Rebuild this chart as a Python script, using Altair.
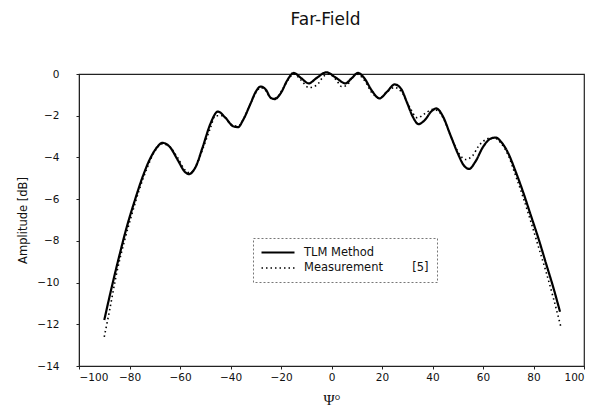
import altair as alt
import pandas as pd

# TLM Method (solid)
tlm_x = [-90, -87, -84, -81, -78, -75, -72, -69, -67, -64, -61, -58, -56.5, -54, -51, -48, -45, -42, -39, -37,
         -35, -32, -30, -28, -26, -24, -22.5, -20, -17.5, -15, -12, -9, -6, -2, 2, 5.5, 8, 10.5, 13, 16,
         19, 22, 25, 27.5, 30, 32, 34.5, 37, 39.5, 41.5, 44, 47, 50, 52.5, 54.5, 57, 60, 63, 65, 67.5,
         70, 73, 76, 79, 82, 85, 88, 90.5]
tlm_y = [-11.8, -10.2, -8.7, -7.3, -6.1, -5.0, -4.1, -3.5, -3.3, -3.5, -4.1, -4.7, -4.8, -4.5, -3.5, -2.4, -1.8, -2.1, -2.5, -2.55,
         -2.2, -1.4, -0.85, -0.6, -0.75, -1.15, -1.2, -0.9, -0.3, 0.05, -0.2, -0.45, -0.2, 0.08, -0.2, -0.45, -0.2, 0.05, -0.2, -0.8,
         -1.17, -0.85, -0.5, -0.7, -1.4, -2.0, -2.4, -2.2, -1.8, -1.65, -2.0, -2.9, -3.8, -4.4, -4.55, -4.2, -3.5, -3.1, -3.05, -3.3,
         -3.8, -4.7, -5.7, -6.8, -7.9, -9.1, -10.3, -11.4]

meas_x = [-90, -88, -85, -82, -79, -76, -73, -70, -67, -64, -61, -58, -56, -54, -51, -48, -46, -43, -40, -37,
          -35, -32, -30, -28, -26, -24, -22, -20, -17, -15, -12, -9, -6, -3, -1, 2, 4, 6, 8, 10,
          13, 16, 19, 22, 25, 28, 31, 34, 37, 40, 42, 45, 48, 51, 53, 56, 58, 61, 64, 67,
          70, 73, 76, 79, 82, 85, 88, 91]
meas_y = [-12.6, -11.4, -9.5, -8.0, -6.7, -5.5, -4.5, -3.7, -3.35, -3.5, -4.0, -4.6, -4.75, -4.5, -3.6, -2.6, -2.0, -2.0, -2.4, -2.5,
          -2.2, -1.4, -0.9, -0.65, -0.8, -1.15, -1.15, -0.85, -0.25, 0.0, -0.3, -0.65, -0.55, -0.1, 0.0, -0.3, -0.6, -0.55, -0.2, 0.0,
          -0.3, -0.9, -1.15, -0.85, -0.65, -0.9, -1.6, -2.1, -1.9, -1.7, -1.75, -2.3, -3.2, -3.9, -4.1, -3.9, -3.5, -3.15, -3.05, -3.3,
          -3.9, -4.9, -5.95, -7.1, -8.3, -9.5, -10.8, -12.2]

meas_label = "Measurement" + "\u00a0" * 8 + "[5]" + "\u00a0" * 4
series_names = ["TLM Method", meas_label]

x_ticks = [-100, -80, -60, -40, -20, 0, 20, 40, 60, 80, 100]
y_ticks = [-14, -12, -10, -8, -6, -4, -2, 0]

df = pd.concat([
    pd.DataFrame({"psi": tlm_x, "amp": tlm_y, "series": series_names[0]}),
    pd.DataFrame({"psi": meas_x, "amp": meas_y, "series": series_names[1]}),
])

chart = alt.Chart(df).mark_line(interpolate="monotone", color="black").encode(
    x=alt.X("psi:Q", scale=alt.Scale(domain=[-100, 100], nice=False),
            axis=alt.Axis(values=x_ticks, title="Ψ°", titleFont="Liberation Serif", titleFontSize=15,
                          titleFontWeight="normal", titlePadding=10, labelPadding=3, tickSize=3)),
    y=alt.Y("amp:Q", scale=alt.Scale(domain=[-14, 0], nice=False),
            axis=alt.Axis(values=y_ticks, title="Amplitude [dB]", titleFontSize=11.5,
                          titleFontWeight="normal", titlePadding=8, labelPadding=17, tickSize=3)),
    strokeDash=alt.StrokeDash("series:N", sort=series_names,
                              scale=alt.Scale(domain=series_names, range=[[1, 0], [1.5, 3]]),
                              legend=alt.Legend(title=None, orient="none", legendX=174, legendY=164,
                                                symbolType="M-5.6,0H1", symbolSize=100, symbolOffset=22,
                                                symbolStrokeWidth=1.8, symbolStrokeColor="black",
                                                labelFont="DejaVu Sans", labelFontSize=11.5, labelLimit=400,
                                                labelOffset=8, labelColor="#111", padding=8, rowPadding=4)),
    strokeWidth=alt.StrokeWidth("series:N", scale=alt.Scale(domain=series_names, range=[2.2, 1.6]), legend=None),
).properties(
    width=505, height=292,
    title=alt.TitleParams("Far-Field", font="DejaVu Sans", fontSize=17, fontWeight="normal",
                          color="#111", offset=39, dx=-6),
    autosize=alt.AutoSizeParams(type="none"),
    padding={"left": 71, "top": 66, "right": 4, "bottom": 46},
).configure_view(
    stroke="#222", strokeWidth=1.2
).configure_axis(
    grid=False, domainColor="#222", tickColor="#222", labelFont="DejaVu Sans", labelFontSize=10.5,
    labelColor="#111", titleFont="DejaVu Sans", titleColor="#111"
).configure_legend(
    strokeColor="#777", strokeDash=[2, 2], strokeWidth=1
)

chart.save("out.html", embed_options={"renderer": "svg", "actions": False})
